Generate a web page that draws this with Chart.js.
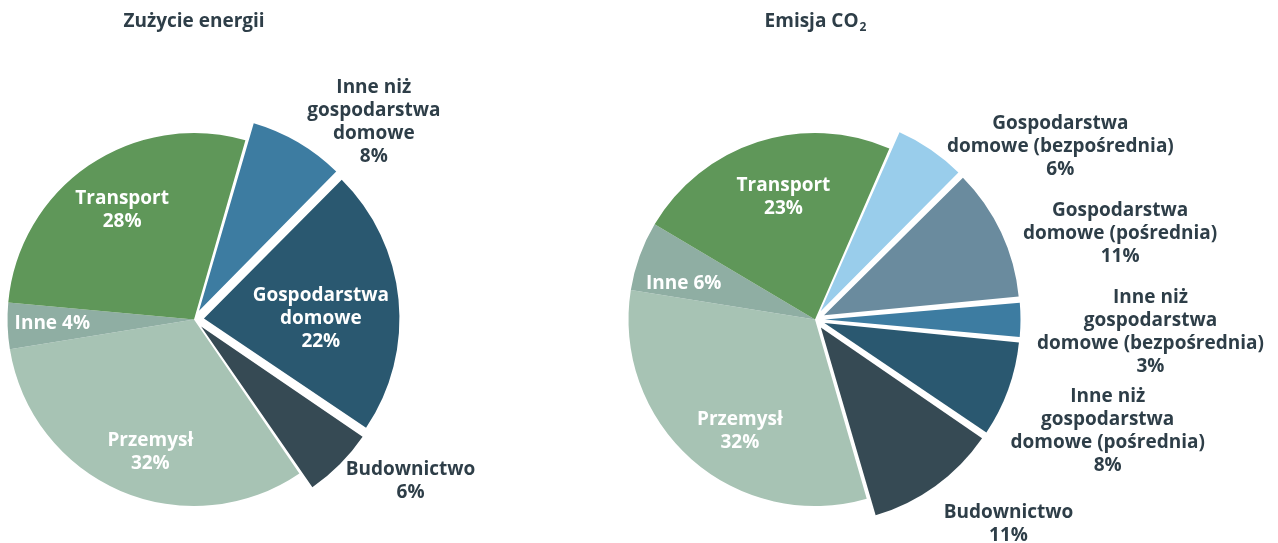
<!DOCTYPE html>
<html>
<head>
<meta charset="utf-8">
<script src="https://cdn.jsdelivr.net/npm/chart.js@4.4.1/dist/chart.umd.min.js"></script>
<style>
  html, body { margin: 0; padding: 0; background: #fff; }
  #wrap { position: relative; width: 1278px; height: 543px; }
  .box { position: absolute; top: 0; height: 543px; }
</style>
</head>
<body>
<div id="wrap">
  <div class="box" style="left:0;width:600px"><canvas id="energy"></canvas></div>
  <div class="box" style="left:600px;width:678px"><canvas id="co2"></canvas></div>
</div>
<script>
// Zużycie energii (%)
const energyNames = [
  ["Inne niż", "gospodarstwa", "domowe"],
  ["Gospodarstwa", "domowe"],
  ["Budownictwo"],
  ["Przemysł"],
  ["Inne"],
  ["Transport"]
];
const energyValues = [8, 22, 6, 32, 4, 28];

// Emisja CO2 (%)
const co2Names = [
  ["Gospodarstwa", "domowe (bezpośrednia)"],
  ["Gospodarstwa", "domowe (pośrednia)"],
  ["Inne niż", "gospodarstwa", "domowe (bezpośrednia)"],
  ["Inne niż", "gospodarstwa", "domowe (pośrednia)"],
  ["Budownictwo"],
  ["Przemysł"],
  ["Inne"],
  ["Transport"]
];
const co2Values = [6, 11, 3, 8, 11, 32, 6, 23];

const C = {
  transport: "#5f9759",
  przemysl: "#a7c3b4",
  inne: "#8faea3",
  inneNiz: "#3d7ca1",
  dom: "#2a5870",
  budow: "#364a54",
  domBezp: "#99cdeb",
  domPosr: "#6a8b9e",
  text: "#2e3e48"
};

// label placement: r = fraction of radius from centre, da = angle shift (deg)
const energyPlace = [
  { r: 1.43, da: 12 },
  { r: 0.68, da: 5, inside: true },
  { r: 1.45, da: -8 },
  { r: 0.75, da: -5, inside: true },
  { r: 0.76, da: 0.5, inside: true, inline: true },
  { r: 0.70, da: 1, inside: true }
];
const co2Place = [
  { r: 1.61, da: 20.5 },
  { r: 1.70, da: 9.3 },
  { r: 1.80, da: 2 },
  { r: 1.68, da: 1 },
  { r: 1.51, da: -7.5 },
  { r: 0.72, da: -7.5, inside: true },
  { r: 0.73, da: -4.5, inside: true, inline: true },
  { r: 0.68, da: 3.5, inside: true }
];

const PULL = 10;    // how far pulled-out slices move (px)
const GROW = 9;     // extra radius of pulled-out slices (px)
const FONT = 'bold 19px "Open Sans"';

// Chart.js enlarges small offset slices on its own; set their radius explicitly
const keepRadius = {
  id: 'keepRadius',
  afterUpdate(chart) {
    const meta = chart.getDatasetMeta(0);
    meta.data.forEach(arc => {
      const off = (arc.options.offset || 0) / 4;
      if (!off) return;
      const circ = arc.endAngle - arc.startAngle;
      const fix = 1 - Math.sin(Math.min(Math.PI, circ));
      arc.outerRadius = meta.controller.outerRadius + GROW - off * fix;
    });
  }
};

const pieText = {
  id: 'pieText',
  afterDatasetsDraw(chart, args, opts) {
    const ctx = chart.ctx;
    const meta = chart.getDatasetMeta(0);
    const R = meta.controller.outerRadius;
    const vals = chart.data.datasets[0].data;
    ctx.save();
    ctx.textAlign = 'center';
    ctx.textBaseline = 'middle';
    ctx.font = FONT;
    meta.data.forEach((arc, i) => {
      const p = opts.place[i];
      const a = (arc.startAngle + arc.endAngle) / 2 + p.da * Math.PI / 180;
      const x = arc.x + Math.cos(a) * R * p.r;
      const y = arc.y + Math.sin(a) * R * p.r;
      const name = opts.names[i];
      const lines = p.inline ? [name.join(' ') + ' ' + vals[i] + '%'] : [...name, vals[i] + '%'];
      ctx.fillStyle = p.inside ? '#fff' : C.text;
      lines.forEach((t, k) => ctx.fillText(t, x, y + (k - (lines.length - 1) / 2) * 23));
    });

    // heading above the pie
    const cx = meta.data[0].x;
    ctx.fillStyle = C.text;
    ctx.font = FONT;
    if (opts.sub) {
      ctx.textAlign = 'left';
      const w = ctx.measureText(opts.title).width;
      ctx.font = 'bold 12px "Open Sans"';
      const ws = ctx.measureText(opts.sub).width;
      const x0 = cx - (w + ws) / 2;
      ctx.font = FONT;
      ctx.fillText(opts.title, x0, 22);
      ctx.font = 'bold 12px "Open Sans"';
      ctx.fillText(opts.sub, x0 + w + 1, 28);
    } else {
      ctx.fillText(opts.title, cx, 22);
    }
    ctx.restore();
  }
};

function makePie(id, values, names, colors, pulled, rotation, pad, place, title, sub) {
  return new Chart(document.getElementById(id), {
    type: 'pie',
    data: {
      labels: names.map(n => n.join(' ')),
      datasets: [{
        data: values,
        backgroundColor: colors,
        offset: pulled.map(o => o ? PULL * 4 : 0),
        borderWidth: 0
      }]
    },
    options: {
      responsive: true,
      maintainAspectRatio: false,
      animation: false,
      rotation: rotation,
      radius: 186.5,
      layout: { padding: pad },
      events: [],
      plugins: {
        legend: { display: false },
        tooltip: { enabled: false },
        pieText: { names: names, place: place, title: title, sub: sub }
      }
    },
    plugins: [keepRadius, pieText]
  });
}

makePie('energy', energyValues, energyNames,
  [C.inneNiz, C.dom, C.budow, C.przemysl, C.inne, C.transport],
  [1, 1, 1, 0, 0, 0], 16,
  { left: 0, right: 212, top: 100, bottom: 4 },
  energyPlace, 'Zużycie energii');

makePie('co2', co2Values, co2Names,
  [C.domBezp, C.domPosr, C.inneNiz, C.dom, C.budow, C.przemysl, C.inne, C.transport],
  [1, 1, 1, 1, 1, 0, 0, 0], 23.5,
  { left: 0, right: 248, top: 100, bottom: 4 },
  co2Place, 'Emisja CO', '2');
</script>
</body>
</html>
